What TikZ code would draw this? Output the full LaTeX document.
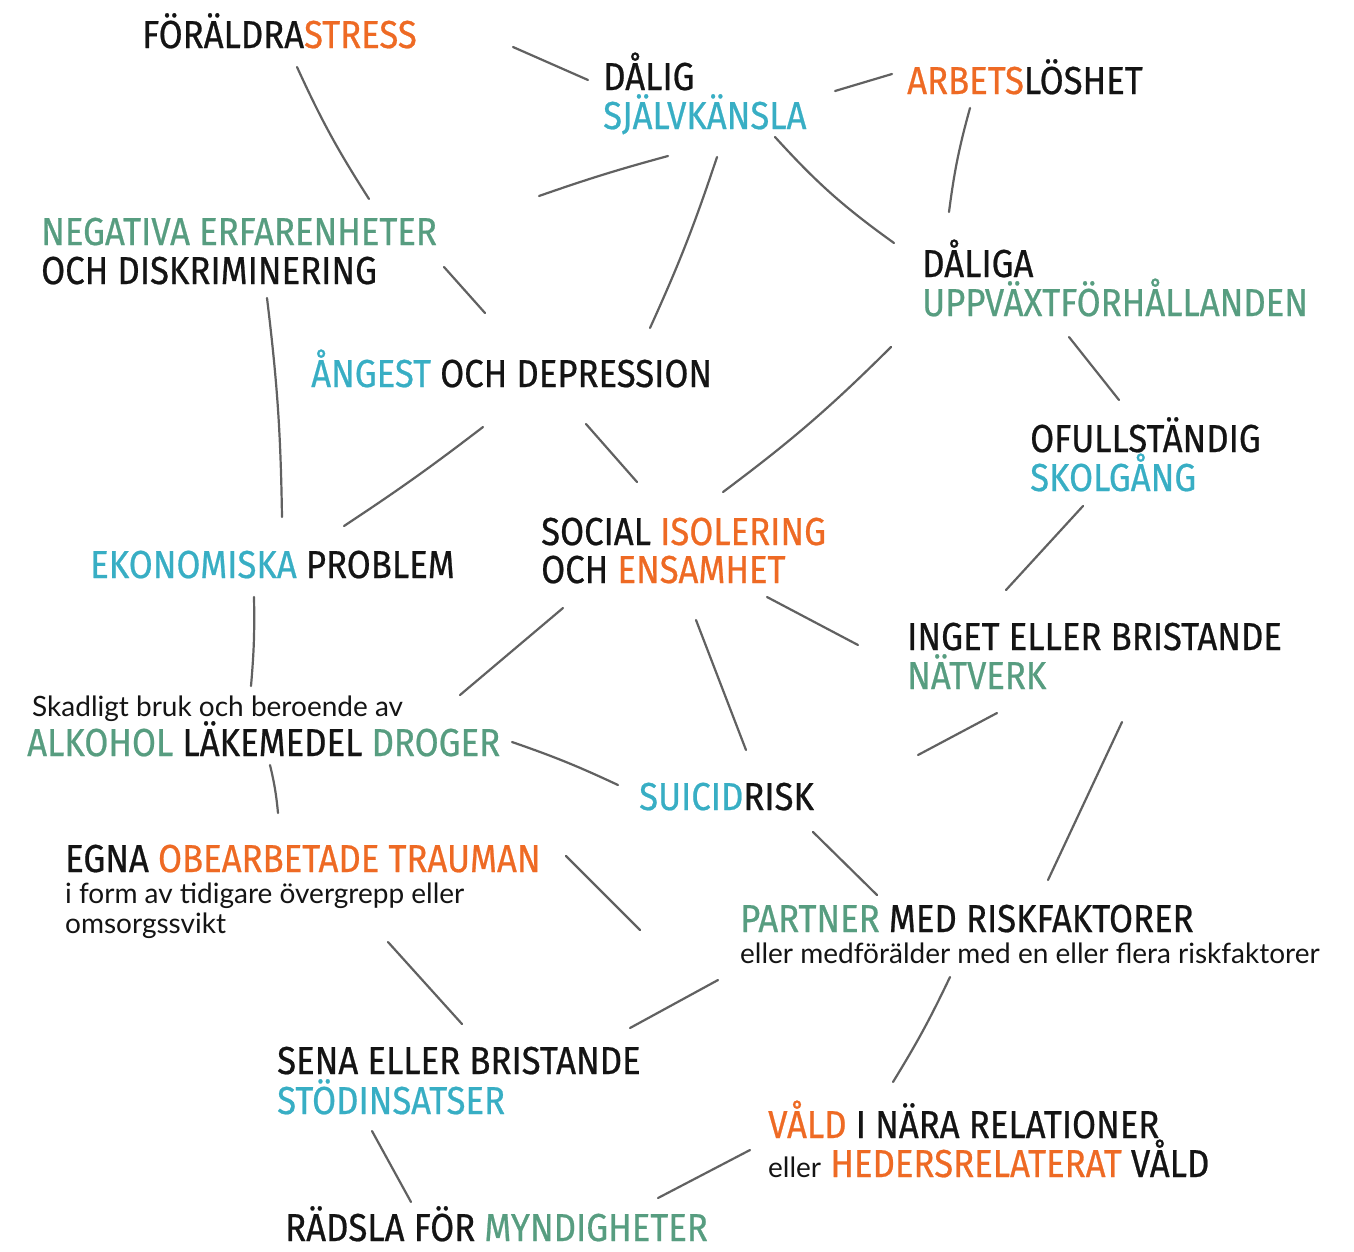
\documentclass[tikz,border=0pt]{standalone}
\usepackage{fontspec}
\newfontfamily\bigf[FakeStretch=0.89,FakeBold=0.6]{Fira Sans}
\newfontfamily\smallf{Lato}
\definecolor{orng}{HTML}{EE6A24}
\definecolor{blu}{HTML}{38AEC4}
\definecolor{grn}{HTML}{579D80}
\definecolor{ink}{HTML}{141414}
\definecolor{pencil}{HTML}{505050}
\newcommand\co[1]{\textcolor{orng}{#1}}
\newcommand\cb[1]{\textcolor{blu}{#1}}
\newcommand\cg[1]{\textcolor{grn}{#1}}
\newcommand\sm[1]{{\smallf\fontsize{28}{30}\selectfont #1}}
\newcommand\twoline[3][39]{\vtop{\offinterlineskip\hbox{\smash{#2}}\vskip#1pt\hbox{\smash{#3}}}}
\tikzset{
  txt/.style={anchor=base west, inner sep=0pt, text=ink, font=\bigf\fontsize{39}{39}\selectfont},
  stroke/.style={draw=pencil, line width=2.2pt, line cap=round, opacity=0.9},
}
\begin{document}
\begin{tikzpicture}[x=1pt,y=-1pt]
\useasboundingbox (0,0) rectangle (1354,1251);
% ---- nodes ----
\node[txt] (stress) at (142,48) {FÖRÄLDRA\co{STRESS}};
\node[txt] (dalig) at (603,90) {\twoline{DÅLIG}{\cb{SJÄLVKÄNSLA}}};
\node[txt] (arbets) at (907,94) {\co{ARBETS}LÖSHET};
\node[txt] (negativa) at (41,245) {\twoline{\cg{NEGATIVA ERFARENHETER}}{OCH DISKRIMINERING}};
\node[txt] (daliga) at (922,277) {\twoline{DÅLIGA}{\cg{UPPVÄXTFÖRHÅLLANDEN}}};
\node[txt] (angest) at (311,387) {\cb{ÅNGEST} OCH DEPRESSION};
\node[txt] (ofull) at (1030,452) {\twoline{OFULLSTÄNDIG}{\cb{SKOLGÅNG}}};
\node[txt] (social) at (541,545) {\twoline[38]{SOCIAL \co{ISOLERING}}{OCH \co{ENSAMHET}}};
\node[txt] (ekonom) at (90,578) {\cb{EKONOMISKA} PROBLEM};
\node[txt] (inget) at (907,650) {\twoline{INGET ELLER BRISTANDE}{\cg{NÄTVERK}}};
\node[txt] (skadligt) at (32,716) {\sm{Skadligt bruk och beroende av}};
\node[txt] (alkohol) at (27,756) {\cg{ALKOHOL} LÄKEMEDEL \cg{DROGER}};
\node[txt] (suicid) at (639,810) {\cb{SUICID}RISK};
\node[txt, text depth=2pt] (egna) at (65,872) {EGNA \co{OBEARBETADE TRAUMAN}};
\node[txt] (egnasub) at (65,903) {\twoline[30]{\sm{i form av tidigare övergrepp eller}}{\sm{omsorgssvikt}}};
\node[txt] (partner) at (740,932) {\cg{PARTNER} MED RISKFAKTORER};
\node[txt] (partnersub) at (740,963) {\sm{eller medförälder med en eller flera riskfaktorer}};
\node[txt] (sena) at (277,1074) {\twoline[40]{SENA ELLER BRISTANDE}{\cb{STÖDINSATSER}}};
\node[txt] (vald) at (768,1138) {\twoline{\co{VÅLD} I NÄRA RELATIONER}{\sm{eller} \co{HEDERSRELATERAT} VÅLD}};
\node[txt, text depth=0pt] (radsla) at (285,1241) {RÄDSLA FÖR \cg{MYNDIGHETER}};
% ---- stroke end points ----
\coordinate (a1) at (513,47);   \coordinate (b1) at (588,80);
\coordinate (a2) at (835,91);   \coordinate (b2) at (892,74);
\coordinate (a3) at (297,67);   \coordinate (b3) at (369,199);
\coordinate (a4) at (970,108);  \coordinate (b4) at (949,212);
\coordinate (a5) at (539,196);  \coordinate (b5) at (668,156);
\coordinate (a6) at (775,137);  \coordinate (b6) at (894,243);
\coordinate (a7) at (717,157);  \coordinate (b7) at (650,328);
\coordinate (a8) at (444,267);  \coordinate (b8) at (485,313);
\coordinate (a9) at (267,298);  \coordinate (b9) at (282,517);
\coordinate (a10) at (1069,337); \coordinate (b10) at (1119,400);
\coordinate (a11) at (891,347); \coordinate (b11) at (723,492);
\coordinate (a12) at (483,427); \coordinate (b12) at (344,526);
\coordinate (a13) at (586,424); \coordinate (b13) at (637,482);
\coordinate (a14) at (1083,506); \coordinate (b14) at (1006,590);
\coordinate (a15) at (767,597); \coordinate (b15) at (858,645);
\coordinate (a16) at (563,608); \coordinate (b16) at (460,695);
\coordinate (a17) at (696,620); \coordinate (b17) at (746,750);
\coordinate (a18) at (254,597); \coordinate (b18) at (251,686);
\coordinate (a19) at (997,713); \coordinate (b19) at (918,755);
\coordinate (a20) at (1122,722); \coordinate (b20) at (1048,880);
\coordinate (a21) at (512,742); \coordinate (b21) at (618,785);
\coordinate (a22) at (270,765); \coordinate (b22) at (278,813);
\coordinate (a23) at (813,832); \coordinate (b23) at (877,895);
\coordinate (a24) at (566,856); \coordinate (b24) at (640,930);
\coordinate (a25) at (388,942); \coordinate (b25) at (462,1024);
\coordinate (a26) at (718,980); \coordinate (b26) at (630,1028);
\coordinate (a27) at (950,977); \coordinate (b27) at (893,1082);
\coordinate (a28) at (372,1131); \coordinate (b28) at (411,1202);
\coordinate (a29) at (750,1150); \coordinate (b29) at (658,1198);
% ---- strokes ----
\draw[stroke] (a1) -- (b1);
\draw[stroke] (a2) -- (b2);
\draw[stroke] (a3) to[bend right=4] (b3);
\draw[stroke] (a4) to[bend right=4] (b4);
\draw[stroke] (a5) to[bend left=2] (b5);
\draw[stroke] (a6) to[bend right=6] (b6);
\draw[stroke] (a7) to[bend left=3] (b7);
\draw[stroke] (a8) -- (b8);
\draw[stroke] (a9) to[bend left=3] (b9);
\draw[stroke] (a10) -- (b10);
\draw[stroke] (a11) to[bend left=4] (b11);
\draw[stroke] (a12) to[bend left=2] (b12);
\draw[stroke] (a13) -- (b13);
\draw[stroke] (a14) -- (b14);
\draw[stroke] (a15) -- (b15);
\draw[stroke] (a16) -- (b16);
\draw[stroke] (a17) -- (b17);
\draw[stroke] (a18) to[bend left=3] (b18);
\draw[stroke] (a19) -- (b19);
\draw[stroke] (a20) -- (b20);
\draw[stroke] (a21) to[bend left=3] (b21);
\draw[stroke] (a22) to[bend left=4] (b22);
\draw[stroke] (a23) -- (b23);
\draw[stroke] (a24) -- (b24);
\draw[stroke] (a25) -- (b25);
\draw[stroke] (a26) -- (b26);
\draw[stroke] (a27) to[bend left=3] (b27);
\draw[stroke] (a28) -- (b28);
\draw[stroke] (a29) -- (b29);
\end{tikzpicture}
\end{document}
